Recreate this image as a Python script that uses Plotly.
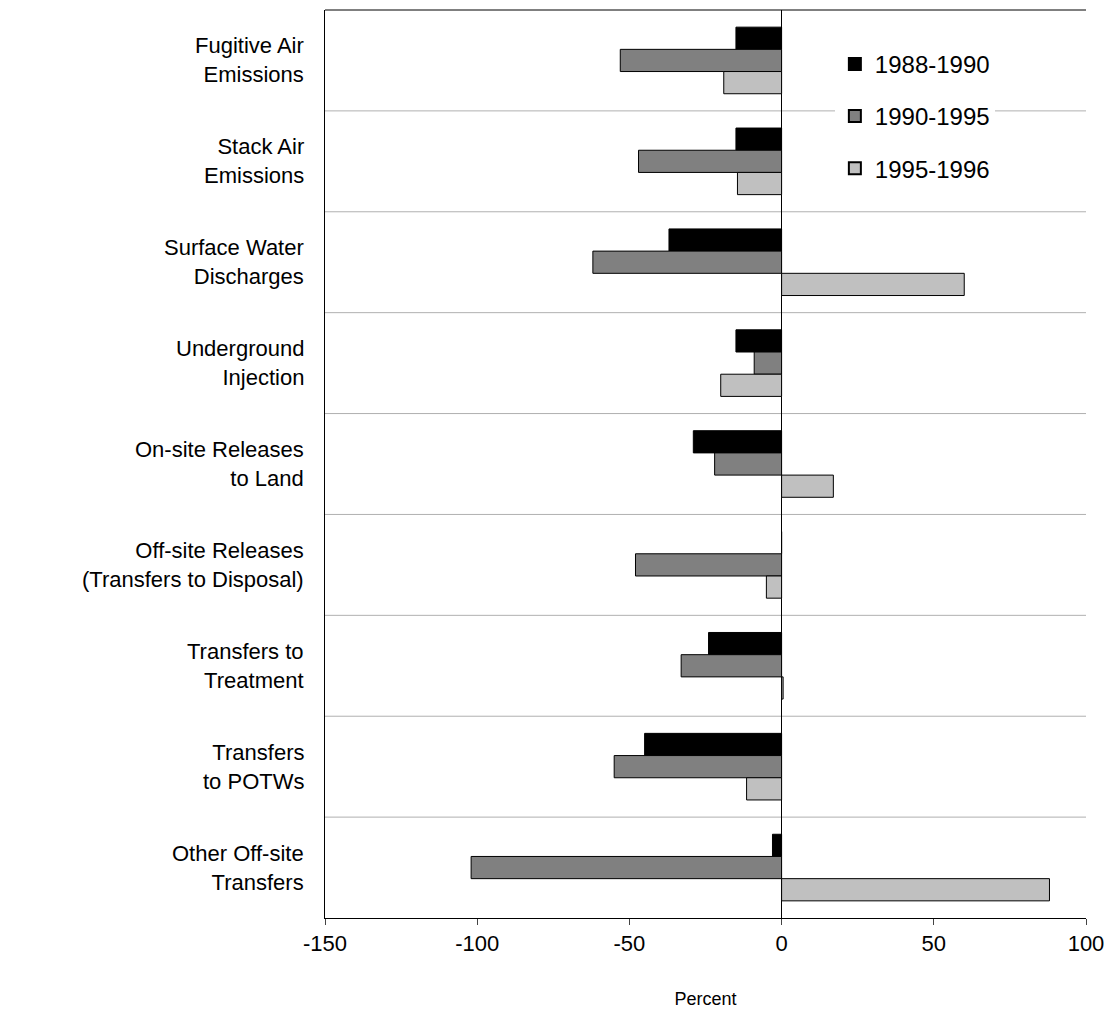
import plotly.graph_objects as go

categories = ["Fugitive Air<br>Emissions", "Stack Air<br>Emissions", "Surface Water<br>Discharges",
              "Underground<br>Injection", "On-site Releases<br>to Land",
              "Off-site Releases<br>(Transfers to Disposal)", "Transfers to<br>Treatment",
              "Transfers<br>to POTWs", "Other Off-site<br>Transfers"]
s1988 = [-15, -15, -37, -15, -29, 0, -24, -45, -3]
s1990 = [-53, -47, -62, -9, -22, -48, -33, -55, -102]
s1995 = [-19, -14.5, 60, -20, 17, -5, 0.5, -11.5, 88]
series = [("1988-1990", s1988, "#000000"), ("1990-1995", s1990, "#808080"), ("1995-1996", s1995, "#c0c0c0")]
xticks = [-150, -100, -50, 0, 50, 100]

ypos = list(range(len(categories)))
fig = go.Figure()
for name, vals, col in series:
    fig.add_trace(go.Bar(y=ypos, x=vals, name=name, orientation="h", marker_color=col,
                         legendgroup=name, marker_line=dict(color="black", width=1)))

for i in range(len(categories) - 1):
    fig.add_shape(type="line", xref="paper", x0=0, x1=1, yref="y", y0=i + 0.5, y1=i + 0.5,
                  line=dict(color="#b0b0b0", width=1), layer="below")
fig.add_shape(type="line", xref="paper", x0=0, x1=1, yref="paper", y0=1, y1=1,
              line=dict(color="black", width=1))
for i, c in enumerate(categories):
    fig.add_annotation(xref="paper", x=-0.025, y=i, yref="y", text=c, showarrow=False,
                       xanchor="right", align="right", font=dict(size=22, color="black"))

fig.update_layout(
    width=1118, height=1017, plot_bgcolor="white", paper_bgcolor="white",
    margin=dict(l=317, r=40, t=2, b=107),
    font=dict(family="Liberation Sans, Arial", color="black"),
    barmode="group", bargap=0.34, bargroupgap=0,
    legend=dict(x=0.67, y=0.965, xanchor="left", yanchor="top", font=dict(size=24),
                bgcolor="white", tracegroupgap=18, itemsizing="constant", itemwidth=30),
    xaxis=dict(range=[-150, 100], tickvals=xticks, ticktext=[str(v) for v in xticks],
               tickfont=dict(size=22),
               showgrid=False, zeroline=True, zerolinecolor="black", zerolinewidth=1,
               showline=True, linecolor="black", ticks="outside", ticklen=6,
               title=dict(text="Percent", font=dict(size=18), standoff=36)),
    yaxis=dict(range=[8.5, -0.5], showticklabels=False, showgrid=False, showline=True,
               linecolor="black", ticks=""),
)
fig.write_html("out.html")
